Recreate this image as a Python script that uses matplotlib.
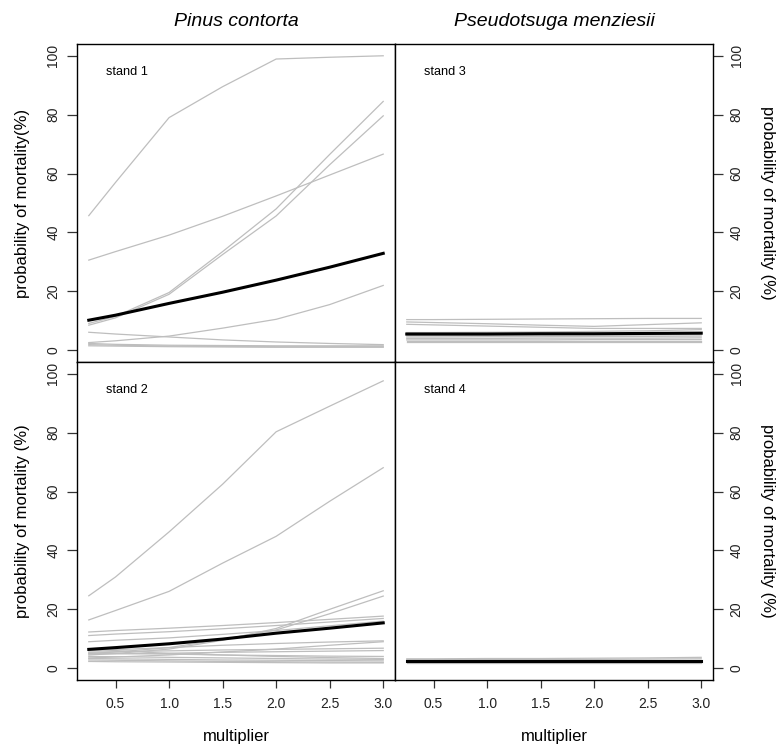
import numpy as np
import matplotlib
matplotlib.use("Agg")
import matplotlib.pyplot as plt

plt.rcParams['font.family'] = ['Liberation Sans', 'DejaVu Sans']

multiplier = [0.25, 0.5, 1.0, 1.5, 2.0, 2.5, 3.0]

# stand 1 - Pinus contorta
stand1_trees = [
    [45.7, 57.0, 79.0, 89.5, 98.9, 99.5, 100.0],
    [30.6, 33.5, 39.1, 45.5, 52.4, 59.5, 66.6],
    [9.1, 11.5, 19.6, 33.5, 48.0, 66.5, 84.5],
    [8.5, 11.0, 19.0, 32.5, 45.6, 63.0, 79.6],
    [2.6, 3.2, 4.8, 7.5, 10.5, 15.5, 22.0],
    [6.1, 5.5, 4.5, 3.5, 2.8, 2.3, 1.9],
    [2.3, 2.0, 1.7, 1.6, 1.5, 1.5, 1.5],
    [1.9, 1.7, 1.4, 1.3, 1.2, 1.2, 1.2],
    [1.5, 1.4, 1.2, 1.1, 1.0, 1.0, 1.0],
]
stand1_mean = [10.2, 11.9, 15.9, 19.7, 23.8, 28.2, 32.9]

# stand 2 - Pinus contorta
stand2_trees = [
    [24.6, 31.0, 46.3, 62.5, 80.3, 89.0, 97.6],
    [16.4, 19.6, 26.1, 35.7, 44.8, 56.7, 68.1],
    [4.5, 5.0, 6.5, 9.5, 13.5, 20.0, 26.3],
    [5.0, 5.5, 7.0, 9.8, 13.0, 18.5, 24.5],
    [12.3, 12.8, 13.6, 14.5, 15.5, 16.6, 17.7],
    [11.1, 11.6, 12.4, 13.4, 14.5, 15.7, 16.9],
    [9.0, 9.5, 10.3, 11.5, 12.8, 14.4, 16.0],
    [6.0, 6.3, 7.0, 7.8, 8.4, 8.9, 9.3],
    [3.5, 3.8, 4.5, 5.5, 6.5, 7.8, 9.0],
    [5.5, 5.6, 5.9, 6.2, 6.4, 6.6, 6.8],
    [4.8, 4.9, 5.1, 5.4, 5.6, 5.8, 6.0],
    [5.2, 5.0, 4.8, 4.5, 4.3, 4.1, 4.0],
    [4.0, 3.9, 3.7, 3.5, 3.3, 3.1, 3.0],
    [3.3, 3.2, 3.0, 2.8, 2.7, 2.6, 2.5],
    [2.8, 2.7, 2.5, 2.3, 2.2, 2.1, 2.0],
    [2.3, 2.2, 2.1, 2.0, 1.9, 1.8, 1.8],
    [6.5, 6.0, 5.0, 4.5, 4.0, 3.6, 3.3],
]
stand2_mean = [6.4, 7.0, 8.3, 9.9, 11.9, 13.6, 15.4]

# stand 3 - Pseudotsuga menziesii
stand3_trees = [
    [10.4, 10.4, 10.5, 10.6, 10.7, 10.8, 10.8],
    [9.6, 9.4, 9.0, 8.5, 8.1, 8.7, 9.3],
    [8.8, 8.6, 8.2, 7.8, 7.4, 7.4, 7.4],
    [6.0, 6.0, 6.1, 6.2, 6.4, 6.6, 7.0],
    [5.0, 5.0, 5.1, 5.1, 5.2, 5.2, 5.3],
    [4.5, 4.5, 4.6, 4.6, 4.7, 4.7, 4.8],
    [4.0, 4.0, 4.0, 4.1, 4.1, 4.1, 4.2],
    [3.5, 3.5, 3.5, 3.5, 3.6, 3.6, 3.6],
    [3.0, 3.0, 3.0, 3.0, 3.0, 3.0, 3.0],
    [2.8, 2.8, 2.8, 2.8, 2.8, 2.8, 2.8],
]
stand3_mean = [5.5, 5.5, 5.5, 5.6, 5.6, 5.7, 5.8]

# stand 4 - Pseudotsuga menziesii
stand4_trees = [
    [3.2, 3.2, 3.3, 3.3, 3.4, 3.5, 3.7],
    [2.9, 2.9, 3.0, 3.0, 3.0, 3.1, 3.2],
    [2.5, 2.5, 2.5, 2.5, 2.5, 2.5, 2.6],
    [2.0, 2.0, 2.0, 2.0, 2.0, 2.0, 2.0],
    [1.8, 1.8, 1.8, 1.8, 1.8, 1.8, 1.8],
]
stand4_mean = [2.3, 2.3, 2.3, 2.3, 2.3, 2.3, 2.3]

species = ['Pinus contorta', 'Pseudotsuga menziesii']
xticks = [0.5, 1.0, 1.5, 2.0, 2.5, 3.0]
xticklabels = ['0.5', '1.0', '1.5', '2.0', '2.5', '3.0']
yticks = [0, 20, 40, 60, 80, 100]

W, H = 781, 747
fig = plt.figure(figsize=(W / 100, H / 100), dpi=100)

# panel boxes in pixels: (left, top)
panels = [
    (77, 44, stand1_trees, stand1_mean, 'stand 1', 'left', False),
    (395, 44, stand3_trees, stand3_mean, 'stand 3', 'right', False),
    (77, 362, stand2_trees, stand2_mean, 'stand 2', 'left', True),
    (395, 362, stand4_trees, stand4_mean, 'stand 4', 'right', True),
]
pw, ph = 318, 318

for left, top, trees, mean, name, side, bottom in panels:
    ax = fig.add_axes([left / W, (H - top - ph) / H, pw / W, ph / H])
    for t in trees:
        ax.plot(multiplier, t, color='#bebebe', lw=0.9)
    ax.plot(multiplier, mean, color='black', lw=2.2)
    ax.set_xlim(0.14, 3.11)
    ax.set_ylim(-4, 104)
    ax.text(0.41, 94.6, name, fontsize=9.2, ha='left', va='center')
    for s in ax.spines.values():
        s.set_linewidth(1.0)
    ax.set_yticks(yticks)
    ax.set_yticklabels([str(v) for v in yticks], rotation=90, va='center', fontsize=10)
    if side == 'left':
        ax.yaxis.tick_left()
    else:
        ax.yaxis.tick_right()
    ax.tick_params(axis='y', length=7, width=0.9, pad=5, color='#333333', labelcolor='#222222')
    if bottom:
        ax.set_xticks(xticks)
        ax.set_xticklabels(xticklabels, fontsize=10)
        ax.tick_params(axis='x', length=6, width=0.9, pad=6.5, color='#333333', labelcolor='#222222')
    else:
        ax.set_xticks([])

# column titles and axis labels
for cx, sp in zip([236, 554], species):
    fig.text(cx / W, 1 - 22 / H, sp, fontsize=14, style='italic', ha='center', va='center')
    fig.text(cx / W, 1 - 736 / H, 'multiplier', fontsize=12, ha='center', va='center')

fig.text(23 / W, 1 - 203 / H, 'probability of mortality(%)', fontsize=12,
         rotation=90, ha='center', va='center')
fig.text(23 / W, 1 - 521 / H, 'probability of mortality (%)', fontsize=12,
         rotation=90, ha='center', va='center')
fig.text(767 / W, 1 - 203 / H, 'probability of mortality (%)', fontsize=12,
         rotation=-90, ha='center', va='center')
fig.text(767 / W, 1 - 521 / H, 'probability of mortality (%)', fontsize=12,
         rotation=-90, ha='center', va='center')

fig.savefig('out.png', dpi=100)
